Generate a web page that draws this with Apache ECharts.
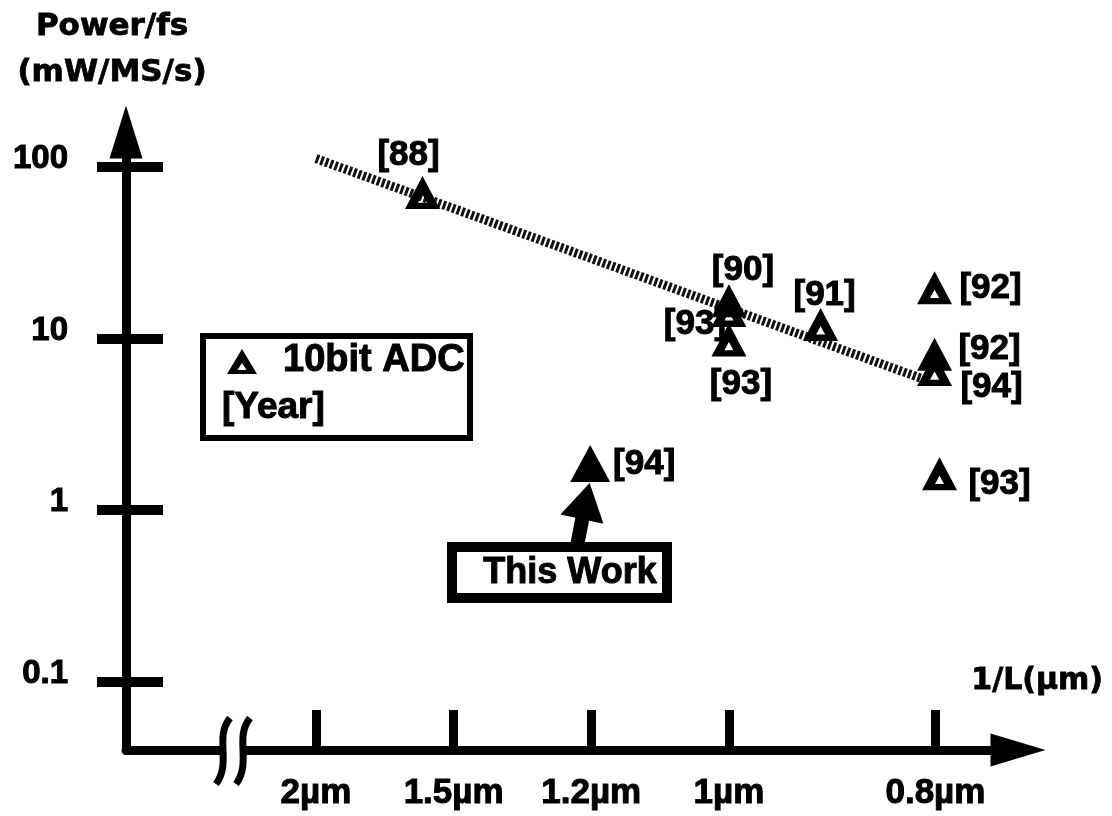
<!DOCTYPE html>
<html><head><meta charset="utf-8">
<script src="https://cdn.jsdelivr.net/npm/echarts@6/dist/echarts.min.js"></script>
<style>html,body{margin:0;padding:0;background:#fff}#c{width:1112px;height:816px}</style>
</head><body><div id="c"></div>
<script>
// ---- data ----
const xTickLengths = [2, 1.5, 1.2, 1, 0.8];            // gate length (µm), axis is 1/L
const xTickLabels = ['2µm', '1.5µm', '1.2µm', '1µm', '0.8µm'];
const yTickValues = [0.1, 1, 10, 100];
const yTickLabels = ['0.1', '1', '10', '100'];

const adcInvL  = [0.629, 1.0, 1.0, 1.0, 1.111, 1.249, 1.249, 1.249, 1.255];
const adcPower = [71, 16.6, 14.6, 9.8, 12.1, 19.8, 8.1, 6.6, 1.63];
const adcRefs  = ['[88]', '[90]', '[93]', '[93]', '[91]', '[92]', '[92]', '[94]', '[93]'];

const thisInvL  = [0.832];
const thisPower = [1.87];
const thisRefs  = ['[94]'];

const trendInvL  = [0.5, 1.24];
const trendPower = [112, 5.7];

// ---- styles ----
const NUM = '"Liberation Sans", Arial, sans-serif';
const WORD = '"DejaVu Sans", sans-serif';
const adcLabelOffsets = [[-14, -37], [14, -30], [-34, 14], [12, 44], [4, -29], [56, 1], [55, -5], [57, 18], [60, 11]];
const thisLabelOffsets = [[54, 1]];
const openTri = 'path://M50,0L100,100L0,100Z M50,56L37,81L63,81Z';
const HEAVY = { textBorderColor: '#000', textBorderWidth: 1 };

const lg = Math.log10;
const xTickVals = xTickLengths.map(L => 1 / L);
const yTickVals = yTickValues.map(lg);
function nearestIdx(arr, v) {
  let b = 0; for (let i = 1; i < arr.length; i++) if (Math.abs(arr[i] - v) < Math.abs(arr[b] - v)) b = i; return b;
}

const chart = echarts.init(document.getElementById('c'), null, { renderer: 'canvas' });
const yMin = lg(0.04), yMax = lg(160);

const yAxisBase = {
  type: 'value', min: yMin, max: yMax, position: 'left',
  splitLine: { show: false }
};

const labelStyle = Object.assign({
  show: true, position: 'inside', formatter: p => p.name,
  color: '#000', fontFamily: NUM, fontWeight: 'bold', fontSize: 35,
  align: 'center', verticalAlign: 'middle'
}, HEAVY);

chart.setOption({
  backgroundColor: '#fff',
  animation: false,
  grid: { left: 126, width: 892, top: 132, height: 618, containLabel: false },
  xAxis: {
    type: 'value', min: 0.27, max: 1.35,
    splitLine: { show: false },
    axisLine: { onZero: false, symbol: ['none', 'triangle'], symbolSize: [33, 55], symbolOffset: [0, 0],
      lineStyle: { color: '#000', width: 9, cap: 'round' } },
    axisTick: { show: true, inside: true, length: 40, customValues: xTickVals,
      lineStyle: { color: '#000', width: 9 } },
    axisLabel: Object.assign({ show: true, customValues: xTickVals, margin: 26,
      formatter: v => xTickLabels[nearestIdx(xTickVals, v)],
      color: '#000', fontFamily: NUM, fontWeight: 'bold', fontSize: 35 }, HEAVY)
  },
  yAxis: [
    Object.assign({}, yAxisBase, {
      axisLine: { onZero: false, show: true, symbol: ['none', 'triangle'], symbolSize: [33, 53], symbolOffset: [0, 0],
        lineStyle: { color: '#000', width: 9, cap: 'round' } },
      axisTick: { show: true, inside: false, length: 29, customValues: yTickVals,
        lineStyle: { color: '#000', width: 10 } },
      axisLabel: Object.assign({ show: true, customValues: yTickVals, margin: 58,
        formatter: v => yTickLabels[nearestIdx(yTickVals, v)],
        verticalAlign: 'bottom', lineHeight: 16,
        color: '#000', fontFamily: NUM, fontWeight: 'bold', fontSize: 33 }, HEAVY)
    }),
    Object.assign({}, yAxisBase, {
      axisLine: { onZero: false, show: false },
      axisTick: { show: true, inside: true, length: 37, customValues: yTickVals,
        lineStyle: { color: '#000', width: 10 } },
      axisLabel: { show: false }
    })
  ],
  series: [
    {
      type: 'line', name: 'trend', yAxisIndex: 0,
      data: trendInvL.map((x, i) => [x, lg(trendPower[i])]),
      symbol: 'none', silent: true, z: 1,
      lineStyle: { color: '#111', width: 9, type: [3, 2] }
    },
    {
      type: 'scatter', name: '10bit ADC', yAxisIndex: 0, z: 3,
      symbol: openTri, symbolSize: [35, 33],
      itemStyle: { color: '#000', opacity: 1 },
      emphasis: { disabled: true },
      data: adcInvL.map((x, i) => ({
        value: [x, lg(adcPower[i])], name: adcRefs[i],
        label: { offset: adcLabelOffsets[i] }
      })),
      label: labelStyle
    },
    {
      type: 'scatter', name: 'This Work', yAxisIndex: 0, z: 3,
      symbol: 'triangle', symbolSize: [40, 37],
      itemStyle: { color: '#000', opacity: 1 },
      emphasis: { disabled: true },
      data: thisInvL.map((x, i) => ({
        value: [x, lg(thisPower[i])], name: thisRefs[i],
        label: { offset: thisLabelOffsets[i] }
      })),
      label: labelStyle,
      // pointer from the "This Work" box to the point
      markLine: {
        silent: true, animation: false,
        symbol: ['none', 'none'],
        label: { show: false },
        lineStyle: { color: '#000', width: 14, type: 'solid', opacity: 1 },
        data: [[{ coord: [0.8156, lg(0.602)] }, { coord: [0.8241, lg(0.976)] }]]
      },
      markPoint: {
        silent: true, animation: false,
        symbol: 'triangle', symbolSize: [44, 37], symbolRotate: -12,
        label: { show: false },
        itemStyle: { color: '#000', opacity: 1 },
        data: [{ coord: [0.8267, lg(1.13)] }]
      }
    }
  ],
  graphic: [
    // axis titles
    { type: 'text', x: 112, y: 27, style: { text: 'Power/fs', font: 'bold 31px ' + WORD, fill: '#000', align: 'center', verticalAlign: 'middle', stroke: '#000', lineWidth: 0.8 } },
    { type: 'text', x: 112, y: 73, style: { text: '(mW/MS/s)', font: 'bold 31px ' + WORD, fill: '#000', align: 'center', verticalAlign: 'middle', stroke: '#000', lineWidth: 0.8 } },
    { type: 'text', x: 1103, y: 681, style: { text: '1/L(µm)', font: 'bold 30px ' + WORD, fill: '#000', align: 'right', verticalAlign: 'middle', stroke: '#000', lineWidth: 0.8 } },
    // legend box
    { type: 'rect', shape: { x: 203, y: 336, width: 267, height: 102 }, style: { fill: '#fff', stroke: '#000', lineWidth: 6 }, z: 5 },
    { type: 'polygon', shape: { points: [[242, 349], [257, 374], [227, 374]] }, style: { fill: '#000' }, z: 6 },
    { type: 'polygon', shape: { points: [[242, 363], [237.5, 370], [246.5, 370]] }, style: { fill: '#fff' }, z: 7 },
    { type: 'text', x: 283, y: 361, style: { text: '10bit ADC', font: 'bold 38px ' + NUM, fill: '#000', align: 'left', verticalAlign: 'middle', stroke: '#000', lineWidth: 1 }, z: 6 },
    { type: 'text', x: 222, y: 408, style: { text: '[Year]', font: 'bold 37px ' + NUM, fill: '#000', align: 'left', verticalAlign: 'middle', stroke: '#000', lineWidth: 1 }, z: 6 },
    // "This Work" box
    { type: 'rect', shape: { x: 452, y: 547, width: 215, height: 51 }, style: { fill: '#fff', stroke: '#000', lineWidth: 10 }, z: 5 },
    { type: 'text', x: 570, y: 573, style: { text: 'This Work', font: 'bold 36px ' + NUM, fill: '#000', align: 'center', verticalAlign: 'middle', stroke: '#000', lineWidth: 1 }, z: 6 },
    // axis break mark
    { type: 'rect', shape: { x: 221, y: 744, width: 22, height: 13 }, style: { fill: '#fff' }, z: 5 },
    { type: 'bezierCurve', shape: { x1: 230, y1: 718, cpx1: 214, cpy1: 738, cpx2: 232, cpy2: 762, x2: 216, y2: 784 }, style: { fill: 'none', stroke: '#000', lineWidth: 7 }, z: 6 },
    { type: 'bezierCurve', shape: { x1: 250, y1: 718, cpx1: 234, cpy1: 738, cpx2: 252, cpy2: 762, x2: 236, y2: 784 }, style: { fill: 'none', stroke: '#000', lineWidth: 7 }, z: 6 }
  ]
});
</script>
</body></html>
